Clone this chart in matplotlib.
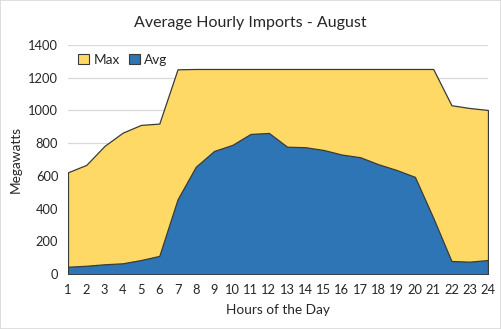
import matplotlib
matplotlib.use("Agg")
import matplotlib.pyplot as plt
from matplotlib.patches import Patch, Rectangle

hours = list(range(1, 25))
max_vals = [622, 667, 783, 864, 911, 919, 1250, 1252, 1252, 1252, 1252, 1252,
            1252, 1252, 1252, 1252, 1252, 1252, 1252, 1252, 1252, 1031, 1014, 1002]
avg_vals = [46, 52, 61, 67, 87, 112, 457, 656, 752, 789, 856, 862,
            778, 775, 758, 730, 714, 671, 636, 594, 345, 81, 77, 87]
title = "Average Hourly Imports - August"
series_names = ["Max", "Avg"]
yticks = [0, 200, 400, 600, 800, 1000, 1200, 1400]

plt.rcParams['font.family'] = ['Lato', 'DejaVu Sans']
yellow = "#FFD966"
blue = "#2E75B6"
edge = "#3a3a3a"
text_c = "#262626"

fig = plt.figure(figsize=(5.01, 3.29), dpi=100)
fig.patches.append(Rectangle((0, 0), 1, 1, transform=fig.transFigure,
                             fill=False, edgecolor="#d9d9d9", linewidth=1.2))
ax = fig.add_axes([0.1357, 0.1663, 0.8383, 0.6978])

ax.fill_between(hours, 0, max_vals, facecolor=yellow, edgecolor=edge, linewidth=0.9, zorder=2)
ax.fill_between(hours, 0, avg_vals, facecolor=blue, edgecolor=edge, linewidth=0.9, zorder=3)

ax.set_xlim(1, 24)
ax.set_ylim(0, 1400)
ax.set_xticks(hours)
ax.set_xticklabels([str(h) for h in hours])
ax.set_yticks(yticks)
ax.tick_params(length=0, labelsize=9.3, colors=text_c, pad=7)
ax.grid(axis='y', color="#d9d9d9", linewidth=0.9, zorder=0)
ax.set_axisbelow(True)
for s in ax.spines.values():
    s.set_visible(False)

ax.set_xlabel("Hours of the Day", fontsize=9.8, color=text_c, labelpad=6)
ax.set_ylabel("Megawatts", fontsize=9.8, color=text_c, labelpad=5)
fig.text(0.5, 0.93, title, ha='center', va='center', fontsize=11.5, color=text_c)

handles = [Patch(facecolor=yellow, edgecolor=edge, linewidth=0.8),
           Patch(facecolor=blue, edgecolor=edge, linewidth=0.8)]
leg = ax.legend(handles, series_names, loc='upper left', ncol=2, frameon=False,
                fontsize=9.8, handlelength=0.8, handleheight=0.8, handletextpad=0.3,
                columnspacing=0.7, bbox_to_anchor=(0.012, 0.985), borderaxespad=0)
for t in leg.get_texts():
    t.set_color(text_c)

fig.savefig("out.png", dpi=100)
